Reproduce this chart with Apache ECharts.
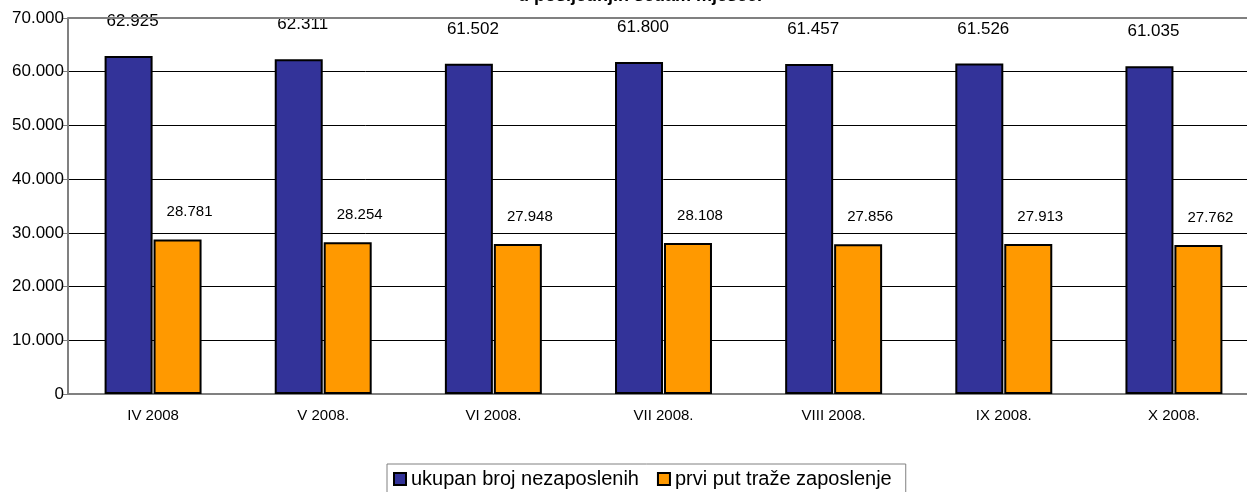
<!DOCTYPE html>
<html>
<head>
<meta charset="utf-8">
<script src="https://cdn.jsdelivr.net/npm/echarts@6/dist/echarts.min.js"></script>
<style>
    html, body { margin: 0; padding: 0; background: #fff; overflow: hidden; }
    #chart { width: 1259px; height: 492px; }
</style>
</head>
<body>
<div id="chart"></div>
<script>
// podaci
var months = ['IV 2008', 'V 2008.', 'VI 2008.', 'VII 2008.', 'VIII 2008.', 'IX 2008.', 'X 2008.'];
var ukupno = [62925, 62311, 61502, 61800, 61457, 61526, 61035];
var prviPut = [28781, 28254, 27948, 28108, 27856, 27913, 27762];
var seriesNames = ['ukupan broj nezaposlenih', 'prvi put traže zaposlenje'];

function fmt(v) {
    var s = String(Math.round(v));
    return s.replace(/\B(?=(\d{3})+(?!\d))/g, '.');
}

var font = '"Liberation Sans", Arial, sans-serif';
var chart = echarts.init(document.getElementById('chart'));

var option = {
    animation: false,
    textStyle: { fontFamily: font, color: '#000' },
    graphic: [{
        type: 'text',
        x: 640,
        y: -13,
        style: {
            text: 'u posljednjih sedam mjeseci',
            font: 'bold 18px ' + font,
            fill: '#000',
            align: 'center'
        }
    }, {
        // gornja linija okvira
        type: 'line',
        shape: { x1: 68, y1: 18, x2: 1259, y2: 18 },
        style: { stroke: '#808080', lineWidth: 2 },
        z: 10
    }],
    grid: { left: 68, right: 0, top: 18, bottom: 98 },
    legend: {
        data: seriesNames,
        icon: 'rect',
        left: 387,
        top: 464,
        itemWidth: 12,
        itemHeight: 12,
        itemGap: 18,
        padding: [5, 14, 8, 6],
        borderColor: '#808080',
        borderWidth: 1,
        textStyle: { fontSize: 20, fontFamily: font, color: '#000' }
    },
    xAxis: {
        type: 'category',
        data: months,
        axisLine: { lineStyle: { color: '#808080', width: 2 } },
        axisTick: { length: 5, lineStyle: { color: '#808080' } },
        axisLabel: { fontSize: 15, margin: 14, color: '#000' }
    },
    yAxis: {
        type: 'value',
        min: 0,
        max: 70000,
        interval: 10000,
        axisLine: { show: true, lineStyle: { color: '#808080', width: 2 } },
        axisTick: { show: true, length: 5, lineStyle: { color: '#808080' } },
        axisLabel: { fontSize: 17, margin: 4, color: '#000', formatter: fmt },
        splitLine: { lineStyle: { color: '#000', width: 1 } }
    },
    series: [{
        name: seriesNames[0],
        type: 'bar',
        data: ukupno,
        barWidth: 48,
        barGap: '2%',
        itemStyle: { color: '#333399', borderColor: '#000', borderWidth: 2 },
        label: {
            show: true,
            position: 'top',
            distance: 26,
            offset: [4, 0],
            fontSize: 17,
            color: '#000',
            formatter: function (p) { return fmt(p.value); }
        }
    }, {
        name: seriesNames[1],
        type: 'bar',
        data: prviPut,
        barWidth: 48,
        itemStyle: { color: '#FF9900', borderColor: '#000', borderWidth: 2 },
        label: {
            show: true,
            position: 'top',
            distance: 20,
            offset: [12, 0],
            fontSize: 15,
            color: '#000',
            formatter: function (p) { return fmt(p.value); }
        }
    }]
};

chart.setOption(option);
</script>
</body>
</html>
